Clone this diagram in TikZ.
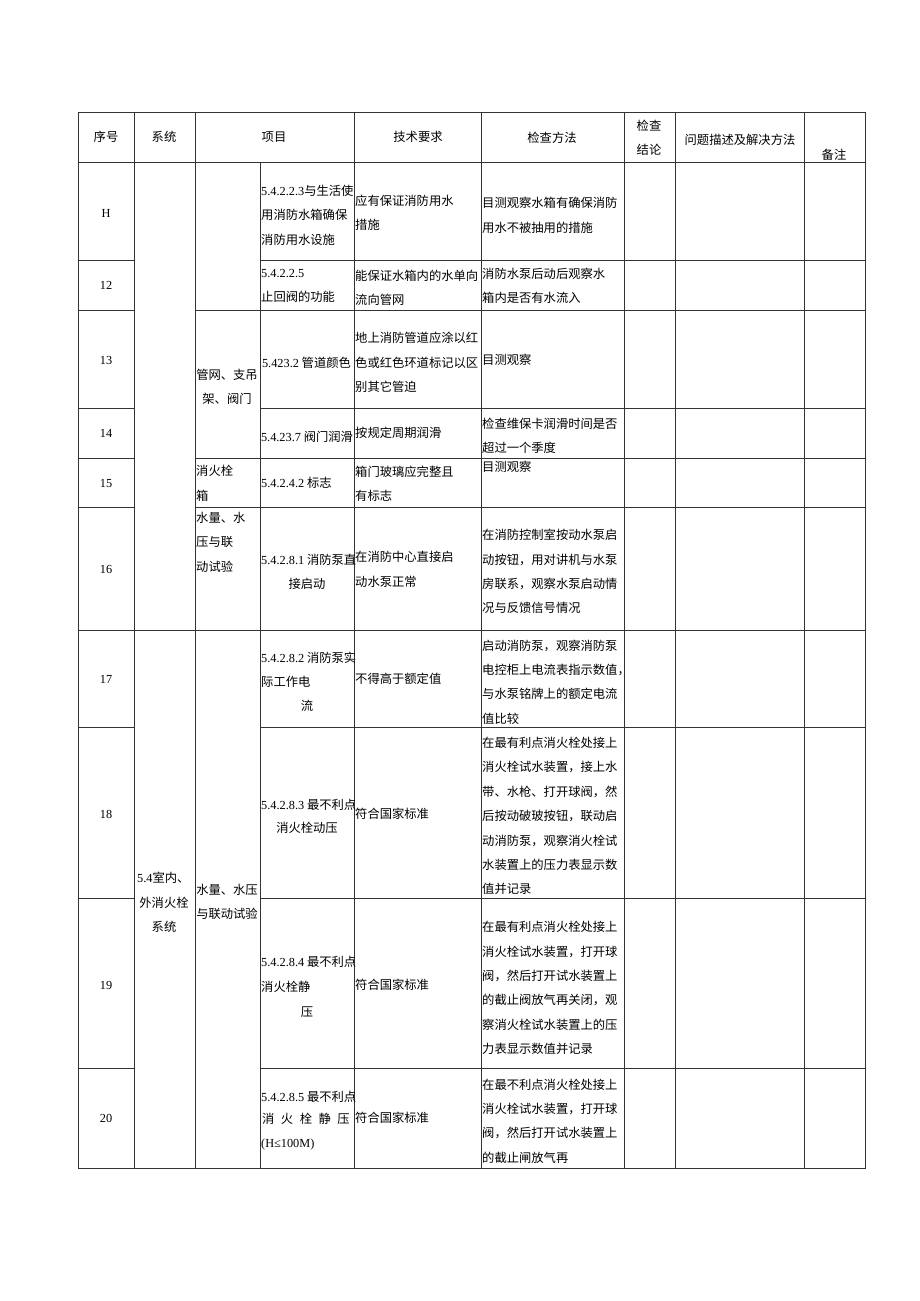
\documentclass[tikz,border=0pt]{standalone}
\usepackage{fontspec}
\setmainfont{Noto Sans CJK SC}
\newfontfamily\latf{Liberation Serif}
\newcommand{\lt}[1]{{\latf #1}}
\tikzset{
  cell/.style={inner sep=0pt, font=\fontsize{12.3}{24.4}\selectfont},
  tl/.style={cell, anchor=west, align=left},
  tc/.style={cell, anchor=center, align=center},
  grid/.style={line width=0.9pt, black!80}
}
\begin{document}
\begin{tikzpicture}[x=1pt,y=-1pt]
\useasboundingbox (0,0) rectangle (920,1301);
\fill[white] (0,0) rectangle (920,1301);
% grid
\draw[grid] (78,112) rectangle (865,1168);
\foreach \x in {134,195,354,481,624,675,804} \draw[grid] (\x,112)--(\x,1168);
\draw[grid] (260,162)--(260,1168);
\draw[grid] (78,162)--(865,162);
\draw[grid] (78,630)--(865,630);
\foreach \y in {260,408,727,898,1068} {\draw[grid] (78,\y)--(134,\y); \draw[grid] (260,\y)--(865,\y);}
\foreach \y in {310,458,507} {\draw[grid] (78,\y)--(134,\y); \draw[grid] (195,\y)--(865,\y);}
% header
\node[tc] (h1) at (106,137) {序号};
\node[tc] (h2) at (164,137) {系统};
\node[tc] (h3) at (274,137) {项目};
\node[tc] (h4) at (418,137) {技术要求};
\node[tc] (h5) at (552,138) {检查方法};
\node[tc] (h6) at (649,137.5) {检查\\结论};
\node[tc] (h7) at (740,140) {问题描述及解决方法};
\node[tc] (h8) at (834,155) {备注};
% row H
\node[tc] (n1) at (106,213) {\lt{H}};
\node[tl] (b1) at (261,215) {\lt{5.4.2.2.3}与生活使\\用消防水箱确保\\消防用水设施};
\node[tl] (t1) at (355,212.5) {应有保证消防用水\\措施};
\node[tl] (m1) at (482,215.5) {目测观察水箱有确保消防\\用水不被抽用的措施};
% row 12
\node[tc] (n2) at (106,285) {\lt{12}};
\node[tl] (b2) at (261,286) {\lt{5.4.2.2.5}\\止回阀的功能};
\node[tl] (t2) at (355,288) {能保证水箱内的水单向\\流向管网};
\node[tl] (m2) at (482,286) {消防水泵后动后观察水\\箱内是否有水流入};
% row 13
\node[tc] (n3) at (106,360) {\lt{13}};
\node[tc] (a3) at (227,387) {管网、支吊\\架、阀门};
\node[tc] (b3) at (306.5,363) {\lt{5.423.2} 管道颜色};
\node[tl] (t3) at (355,362.5) {地上消防管道应涂以红\\色或红色环道标记以区\\别其它管迫};
\node[tl] (m3) at (482,360) {目测观察};
% row 14
\node[tc] (n4) at (106,433) {\lt{14}};
\node[tc] (b4) at (307,437) {\lt{5.4.23.7} 阀门润滑};
\node[tl] (t4) at (355,433) {按规定周期润滑};
\node[tl] (m4) at (482,436) {检查维保卡润滑时间是否\\超过一个季度};
% row 15
\node[tc] (n5) at (106,483) {\lt{15}};
\node[tl] (a5) at (196,483.5) {消火栓\\箱};
\node[tl] (b5) at (261,483) {\lt{5.4.2.4.2} 标志};
\node[tl] (t5) at (355,483.5) {箱门玻璃应完整且\\有标志};
\node[tl] (m5) at (482,467) {目测观察};
% row 16
\node[tc] (n6) at (106,569) {\lt{16}};
\node[tl] (a6) at (196,542) {水量、水\\压与联\\动试验};
\node[tl] (b6) at (261,560) {\lt{5.4.2.8.1} 消防泵直};
\node[tc] (b6b) at (307,584) {接启动};
\node[tl] (t6) at (355,569.5) {在消防中心直接启\\动水泵正常};
\node[tl] (m6) at (482,571.5) {在消防控制室按动水泵启\\动按钮，用对讲机与水泵\\房联系，观察水泵启动情\\况与反馈信号情况};
% row 17
\node[tc] (n7) at (106,679) {\lt{17}};
\node[tl] (b7) at (261,670) {\lt{5.4.2.8.2} 消防泵实\\际工作电};
\node[tc] (b7b) at (307,706) {流};
\node[tl] (t7) at (355,679) {不得高于额定值};
\node[tl] (m7) at (482,682) {启动消防泵，观察消防泵\\电控柜上电流表指示数值，\\与水泵铭牌上的额定电流\\值比较};
% row 18
\node[tc] (n8) at (106,814) {\lt{18}};
\node[tl] (b8) at (261,805) {\lt{5.4.2.8.3} 最不利点};
\node[tc] (b8b) at (307,828) {消火栓动压};
\node[tl] (t8) at (355,814) {符合国家标准};
\node[tl] (m8) at (482,816) {在最有利点消火栓处接上\\消火栓试水装置，接上水\\带、水枪、打开球阀，然\\后按动破玻按钮，联动启\\动消防泵，观察消火栓试\\水装置上的压力表显示数\\值并记录};
% system / item merged
\node[tl] (s1) at (137,878) {\lt{5.4}室内、};
\node[tc] (s2) at (164,914.5) {外消火栓\\系统};
\node[tc] (a7) at (227,902) {水量、水压\\与联动试验};
% row 19
\node[tc] (n9) at (106,985) {\lt{19}};
\node[tl] (b9) at (261,974.5) {\lt{5.4.2.8.4} 最不利点\\消火栓静};
\node[tc] (b9b) at (307,1012) {压};
\node[tl] (t9) at (355,985) {符合国家标准};
\node[tl] (m9) at (482,988) {在最有利点消火栓处接上\\消火栓试水装置，打开球\\阀，然后打开试水装置上\\的截止阀放气再关闭，观\\察消火栓试水装置上的压\\力表显示数值并记录};
% row 20
\node[tc] (n10) at (106,1118) {\lt{20}};
\node[tl] (b10) at (261,1097) {\lt{5.4.2.8.5} 最不利点};
\node[tl] (b10b) at (262,1119) {消\hspace{6.5pt}火\hspace{6.5pt}栓\hspace{6.5pt}静\hspace{6.5pt}压};
\node[tl] (b10c) at (261,1145) {\lt{(H≤100M)}};
\node[tl] (t10) at (355,1118) {符合国家标准};
\node[tl] (m10) at (482,1121) {在最不利点消火栓处接上\\消火栓试水装置，打开球\\阀，然后打开试水装置上\\的截止闸放气再};
\end{tikzpicture}
\end{document}
